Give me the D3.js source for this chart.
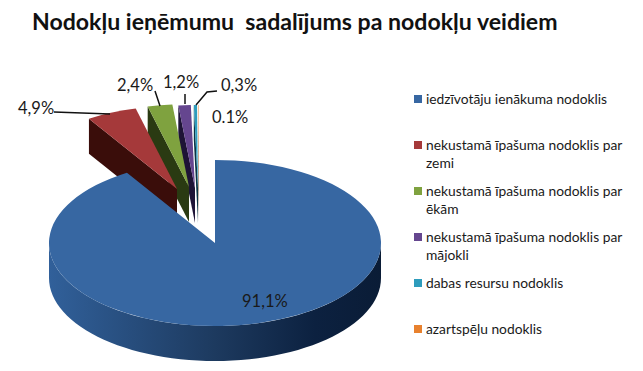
<!DOCTYPE html>
<html><head><meta charset="utf-8">
<script src="https://cdn.jsdelivr.net/npm/d3@7/dist/d3.min.js"></script>
<style>html,body{margin:0;background:#fff}svg{display:block}text{font-family:Lato,"Open Sans",sans-serif;fill:#1a1a1a}</style>
</head><body><svg id="c" width="643" height="371"></svg>
<script>
const titleText = "Nodokļu ieņēmumu  sadalījums pa nodokļu veidiem";
const categories = ["iedzīvotāju ienākuma nodoklis","nekustamā īpašuma nodoklis par zemi","nekustamā īpašuma nodoklis par ēkām","nekustamā īpašuma nodoklis par mājokli","dabas resursu nodoklis","azartspēļu nodoklis"];
const values = [91.1,4.9,2.4,1.2,0.3,0.1];
const valueLabels = ["91,1%","4,9%","2,4%","1,2%","0,3%","0.1%"];
const legendLines = [["iedzīvotāju ienākuma nodoklis"],["nekustamā īpašuma nodoklis par","zemi"],["nekustamā īpašuma nodoklis par","ēkām"],["nekustamā īpašuma nodoklis par","mājokli"],["dabas resursu nodoklis"],["azartspēļu nodoklis"]];
const topColors = ["#3767a2","#a5393a","#7fa23f","#65468f","#2e9cbc","#f3c49c"];
const wallColors = ["none","#3a0d0a","#2a3a12","#1e1436","#0b3444","#5a3010"];
const legendColors = ["#3767a2","#a5393a","#7fa23f","#65468f","#2e9cbc","#e8812e"];
const explodeX = [0,-38,-26,-20,-17,-16], explodeY = [0,-54,-56,-55,-55,-55];
const labelX = [242,18,117,163,221,212], labelY = [307,114,91,88,91,123];
const leaders = [null,[[54,112],[110,114]],[[155,91],[160,106]],[[185,94],[185,104]],[[217,91],[207,92],[196,105]],null];

const svg = d3.select("#c");
const cx=215, cy=243, rx=166, ry=83, depth=35;
const squash = ry/rx;
const pie = d3.pie().sort(null).value(d=>d)(values);
const arc = d3.arc().innerRadius(0).outerRadius(rx);
const pt = (a,i)=>[cx+explodeX[i]+rx*Math.sin(a), cy+explodeY[i]-ry*Math.cos(a)];

const grad = svg.append("defs").append("linearGradient").attr("id","side").attr("gradientUnits","userSpaceOnUse")
  .attr("x1",cx-rx).attr("x2",cx+rx).attr("y1",0).attr("y2",0);
[[0,"#31609a"],[0.5,"#1d3a5f"],[0.8,"#0c2140"],[1,"#0a1c36"]].forEach(s=>grad.append("stop").attr("offset",s[0]).attr("stop-color",s[1]));

svg.append("text").attr("x",32).attr("y",30).attr("xml:space","preserve").style("white-space","pre")
  .attr("font-size",23.1).attr("font-weight",700).style("fill","#111").text(titleText);

svg.append("path").attr("fill","url(#side)")
  .attr("d",(()=>{ const n=d3.range(0,181,3).map(t=>{const a=Math.PI/2+t*Math.PI/180;return [cx+rx*Math.sin(a),cy-ry*Math.cos(a)];});
    const bot=n.slice().reverse().map(p=>[p[0],p[1]+depth]);
    return d3.line()(n.concat(bot))+"Z";})());

d3.range(pie.length-1,0,-1).forEach(i=>{
  const p=pie[i], o=pt(p.startAngle,i), ax=cx+explodeX[i], ay=cy+explodeY[i];
  svg.append("path").attr("fill",wallColors[i])
    .attr("d",d3.line()([o,[ax,ay],[ax,ay+depth],[o[0],o[1]+depth]])+"Z");
});
d3.range(pie.length-1,0,-1).forEach(i=>{
  svg.append("path").attr("fill",topColors[i])
    .attr("transform",`translate(${cx+explodeX[i]},${cy+explodeY[i]}) scale(1,${squash})`)
    .attr("d",arc(pie[i]));
});
svg.append("path").attr("fill",topColors[0])
  .attr("transform",`translate(${cx},${cy}) scale(1,${squash})`).attr("d",arc(pie[0]));

leaders.forEach(l=>{ if(l) svg.append("path").attr("fill","none").attr("stroke","#111").attr("stroke-width",1.5).attr("d",d3.line()(l)); });
valueLabels.forEach((t,i)=>svg.append("text").attr("x",labelX[i]).attr("y",labelY[i]).attr("font-size",16.5).text(t));

const rowY = d3.scaleLinear().domain([0,5]).range([99,329]);
categories.forEach((c,i)=>{
  svg.append("rect").attr("x",414).attr("y",rowY(i)-4).attr("width",8).attr("height",8).attr("fill",legendColors[i]);
  legendLines[i].forEach((ln,j)=>svg.append("text").attr("x",426).attr("y",rowY(i)+5+j*18).attr("font-size",13.8).text(ln));
});
</script></body></html>
